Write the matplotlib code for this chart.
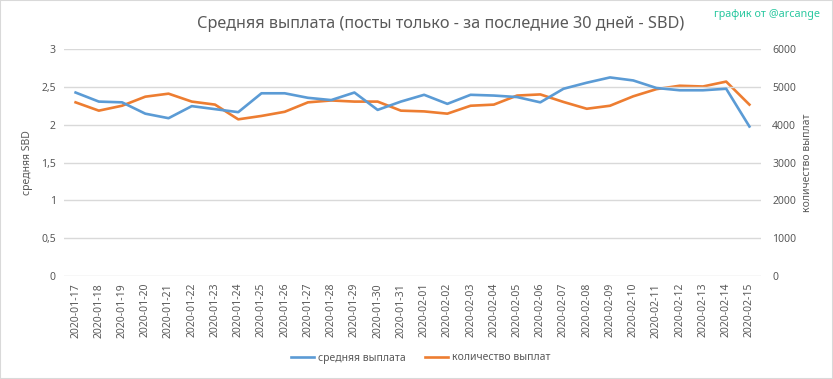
import matplotlib
matplotlib.use("Agg")
import matplotlib.pyplot as plt
from matplotlib.patches import Rectangle

plt.rcParams['font.family'] = ['Noto Sans', 'DejaVu Sans']

# даты (30 дней)
dates = ['2020-01-17', '2020-01-18', '2020-01-19', '2020-01-20', '2020-01-21',
         '2020-01-22', '2020-01-23', '2020-01-24', '2020-01-25', '2020-01-26',
         '2020-01-27', '2020-01-28', '2020-01-29', '2020-01-30', '2020-01-31',
         '2020-02-01', '2020-02-02', '2020-02-03', '2020-02-04', '2020-02-05',
         '2020-02-06', '2020-02-07', '2020-02-08', '2020-02-09', '2020-02-10',
         '2020-02-11', '2020-02-12', '2020-02-13', '2020-02-14', '2020-02-15']

# средняя выплата, SBD (левая ось)
avg_payout = [2.43, 2.31, 2.30, 2.15, 2.09, 2.25, 2.21, 2.17, 2.42, 2.42,
              2.36, 2.33, 2.43, 2.20, 2.31, 2.40, 2.28, 2.40, 2.39, 2.37,
              2.30, 2.48, 2.56, 2.63, 2.59, 2.49, 2.46, 2.46, 2.48, 1.98]

# количество выплат (правая ось)
payout_count = [4600, 4380, 4510, 4750, 4830, 4620, 4540, 4150, 4240, 4350,
                4600, 4650, 4620, 4620, 4380, 4360, 4300, 4510, 4540, 4780,
                4810, 4610, 4430, 4510, 4760, 4950, 5040, 5020, 5150, 4540]

left_ticks = [0, 0.5, 1, 1.5, 2, 2.5, 3]
left_labels = ['0', '0,5', '1', '1,5', '2', '2,5', '3']
right_ticks = [0, 1000, 2000, 3000, 4000, 5000, 6000]

blue = '#5B9BD5'
orange = '#ED7D31'
txt = '#595959'
grid = '#D9D9D9'

fig = plt.figure(figsize=(8.33, 3.79), dpi=100)
ax = fig.add_axes([0.0768, 0.2718, 0.8368, 0.5976])
ax2 = ax.twinx()

x = list(range(len(dates)))
l1, = ax.plot(x, avg_payout, color=blue, lw=1.9, label='средняя выплата')
l2, = ax2.plot(x, payout_count, color=orange, lw=1.9, label='количество выплат')

ax.set_xlim(-0.5, len(dates) - 0.5)
ax.set_ylim(0, 3)
ax2.set_ylim(0, 6000)
ax.set_yticks(left_ticks)
ax.set_yticklabels(left_labels)
ax2.set_yticks(right_ticks)
ax.set_xticks(x)
ax.set_xticklabels(dates, rotation=90)

for a in (ax, ax2):
    for s in a.spines.values():
        s.set_visible(False)
    a.tick_params(length=0, labelsize=7.5, colors=txt)
ax.tick_params(axis='y', pad=6)
ax2.tick_params(axis='y', pad=8)
ax.tick_params(axis='x', pad=5)
ax.yaxis.grid(True, color=grid, lw=1)
ax.set_axisbelow(True)
ax.set_zorder(ax2.get_zorder() + 1)
ax.patch.set_visible(False)

ax.set_ylabel('средняя SBD', color=txt, fontsize=7.5, labelpad=6)
ax2.set_ylabel('количество выплат', color=txt, fontsize=7.5, labelpad=4)

fig.text(441 / 833, 1 - 24 / 379, 'Средняя выплата (посты только - за последние 30 дней - SBD)',
         ha='center', va='center', fontsize=11.7, color=txt)
fig.text(820 / 833, 1 - 15 / 379, 'график от @arcange', ha='right', va='center',
         fontsize=7.8, color='#2BC8A0')

fig.legend(handles=[l1, l2], loc='center', bbox_to_anchor=(421 / 833, 1 - 358 / 379),
           ncol=2, frameon=False, fontsize=7.5, labelcolor=txt, handlelength=2.2,
           columnspacing=1.8, handletextpad=0.4)

fig.patches.append(Rectangle((0, 0), 1, 1, transform=fig.transFigure, fill=False,
                             edgecolor=grid, lw=1.5))

fig.savefig('out.png', dpi=100)
